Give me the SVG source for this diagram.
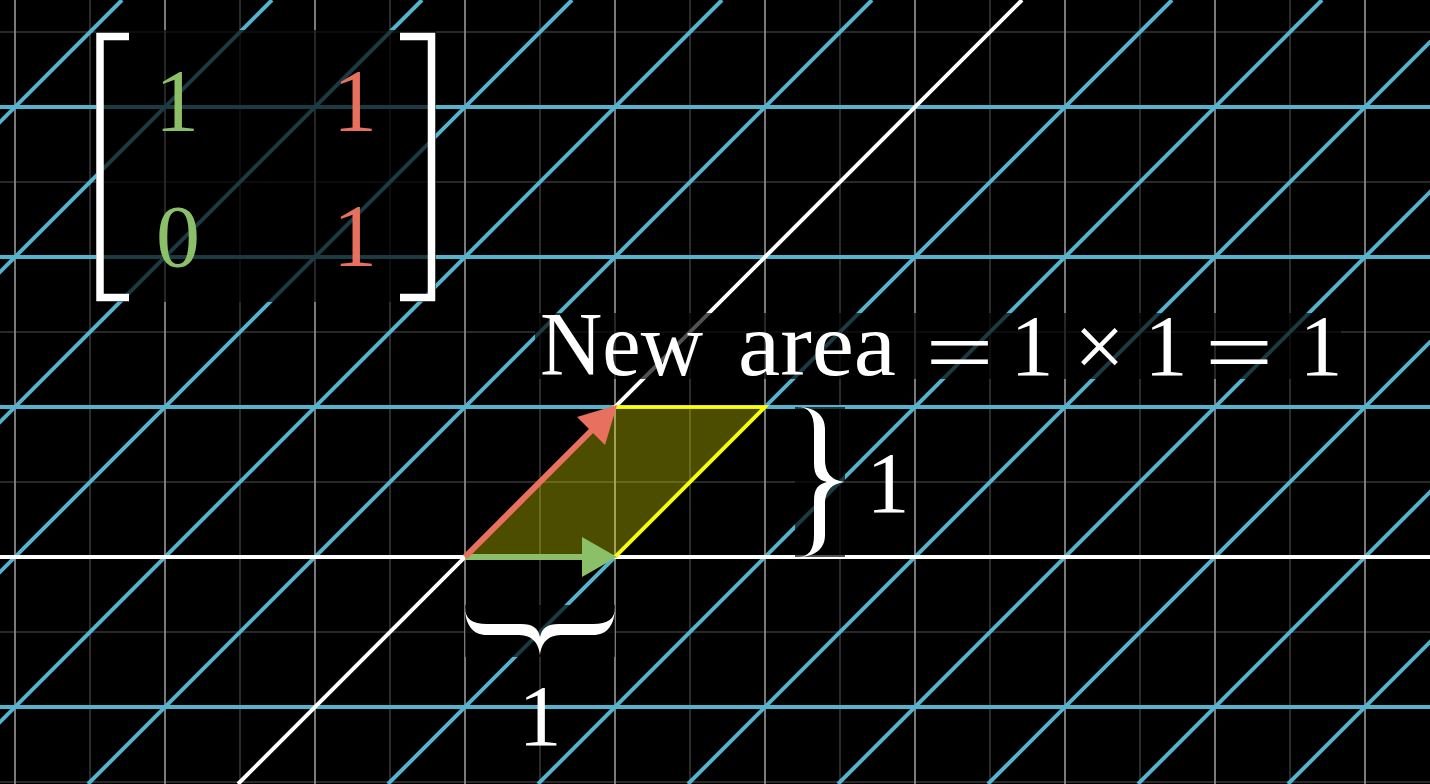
<svg xmlns="http://www.w3.org/2000/svg" width="1430" height="784" viewBox="0 0 1430 784">
<defs>
<style>
.gb{stroke:#7a7a7a;stroke-width:2}
.gf{stroke:#363636;stroke-width:1.6}
.bl{stroke:#55B3CE;stroke-width:4}
.wl{stroke:#ffffff;stroke-width:4}
.tx{font-family:"Liberation Serif","DejaVu Serif",serif;fill:#ffffff}
.mg{fill:#8CC068}
.mr{fill:#E8705E}
.dim{fill:#000000;fill-opacity:0.68}
</style>
<path id="brace" d="M0,0 C0,12 7,17 22,17 L56,17 C68,17 73,21 75,30 C77,21 82,17 94,17 L128,17 C143,17 150,12 150,0 C150,18 142,28 128,28 L98,28 C85,28 77,33 75,48 C73,33 65,28 52,28 L22,28 C8,28 0,18 0,0 Z" fill="#ffffff"/>
</defs>
<rect width="1430" height="784" fill="#000000"/>
<g id="background-grid">
<g class="gf">
<line x1="90" y1="0" x2="90" y2="784"/><line x1="240" y1="0" x2="240" y2="784"/><line x1="390" y1="0" x2="390" y2="784"/><line x1="540" y1="0" x2="540" y2="784"/><line x1="690" y1="0" x2="690" y2="784"/><line x1="840" y1="0" x2="840" y2="784"/><line x1="990" y1="0" x2="990" y2="784"/><line x1="1140" y1="0" x2="1140" y2="784"/><line x1="1290" y1="0" x2="1290" y2="784"/>
<line x1="0" y1="32" x2="1430" y2="32"/><line x1="0" y1="182" x2="1430" y2="182"/><line x1="0" y1="332" x2="1430" y2="332"/><line x1="0" y1="482" x2="1430" y2="482"/><line x1="0" y1="632" x2="1430" y2="632"/><line x1="0" y1="782" x2="1430" y2="782"/>
</g>
<g class="gb">
<line x1="15" y1="0" x2="15" y2="784"/><line x1="165" y1="0" x2="165" y2="784"/><line x1="315" y1="0" x2="315" y2="784"/><line x1="465" y1="0" x2="465" y2="784"/><line x1="615" y1="0" x2="615" y2="784"/><line x1="765" y1="0" x2="765" y2="784"/><line x1="915" y1="0" x2="915" y2="784"/><line x1="1065" y1="0" x2="1065" y2="784"/><line x1="1215" y1="0" x2="1215" y2="784"/><line x1="1365" y1="0" x2="1365" y2="784"/>
</g>
</g>
<g id="sheared-grid">
<g class="bl">
<line x1="0" y1="107" x2="1430" y2="107"/><line x1="0" y1="257" x2="1430" y2="257"/><line x1="0" y1="407" x2="1430" y2="407"/><line x1="0" y1="707" x2="1430" y2="707"/>
<line x1="122" y1="0" x2="-662" y2="784"/>
<line x1="272" y1="0" x2="-512" y2="784"/>
<line x1="422" y1="0" x2="-362" y2="784"/>
<line x1="572" y1="0" x2="-212" y2="784"/>
<line x1="722" y1="0" x2="-62" y2="784"/>
<line x1="872" y1="0" x2="88" y2="784"/>
<line x1="1172" y1="0" x2="388" y2="784"/>
<line x1="1322" y1="0" x2="538" y2="784"/>
<line x1="1472" y1="0" x2="688" y2="784"/>
<line x1="1622" y1="0" x2="838" y2="784"/>
<line x1="1772" y1="0" x2="988" y2="784"/>
<line x1="1922" y1="0" x2="1138" y2="784"/>
<line x1="2072" y1="0" x2="1288" y2="784"/>
</g>
<g class="wl">
<line x1="0" y1="557" x2="1430" y2="557"/>
<line x1="1022" y1="0" x2="238" y2="784"/>
</g>
</g>
<g id="matrix">
<rect class="dim" x="96" y="30" width="340" height="272"/>
<path d="M129,36.5 H100 V297.5 H129" fill="none" stroke="#ffffff" stroke-width="7.5"/>
<path d="M400,36.5 H431.5 V297.5 H400" fill="none" stroke="#ffffff" stroke-width="7.5"/>
<text class="tx mg" x="177" y="130" font-size="88" text-anchor="middle">1</text>
<text class="tx mg" x="178" y="266" font-size="88" text-anchor="middle">0</text>
<text class="tx mr" x="355" y="130" font-size="88" text-anchor="middle">1</text>
<text class="tx mr" x="355" y="265" font-size="88" text-anchor="middle">1</text>
</g>
<g id="area-label">
<rect class="dim" x="535" y="313" width="806" height="66"/>
<text class="tx" x="540" y="375" font-size="90" textLength="163" lengthAdjust="spacingAndGlyphs">New</text>
<text class="tx" x="738" y="375" font-size="90" textLength="158" lengthAdjust="spacingAndGlyphs">area</text>
<text class="tx" font-size="90" text-anchor="middle" transform="translate(959.5,383) scale(1.35,1)">=</text>
<text class="tx" x="1032" y="375" font-size="86" text-anchor="middle">1</text>
<text class="tx" x="1099.5" y="377" font-size="90" text-anchor="middle">×</text>
<text class="tx" x="1166" y="375" font-size="86" text-anchor="middle">1</text>
<text class="tx" font-size="90" text-anchor="middle" transform="translate(1239,383) scale(1.35,1)">=</text>
<text class="tx" x="1321" y="375" font-size="86" text-anchor="middle">1</text>
</g>
<g id="parallelogram">
<path d="M465,557 L615,557 L765,407 L615,407 Z" fill="#FFFF00" fill-opacity="0.3"/>
<path d="M615,557 L765,407 L615,407" fill="none" stroke="#FFFF00" stroke-width="3.5"/>
</g>
<g id="connectors">
<line x1="465" y1="557" x2="584" y2="557" stroke="#8CC068" stroke-width="6"/>
<polygon points="617,557 582,537 582,577" fill="#8CC068"/>
<line x1="465" y1="557" x2="593" y2="429" stroke="#E8705E" stroke-width="6"/>
<polygon points="617,405 577,417 605,445" fill="#E8705E"/>
</g>
<g id="brace-right">
<rect class="dim" x="795" y="407" width="50" height="150"/>
<use href="#brace" transform="matrix(0,1,1,0,797,407)"/>
<text class="tx" x="888" y="512" font-size="86" text-anchor="middle">1</text>
</g>
<g id="brace-bottom">
<rect class="dim" x="465" y="605" width="150" height="52"/>
<use href="#brace" transform="translate(465,607)"/>
<text class="tx" x="540" y="745" font-size="86" text-anchor="middle">1</text>
</g>
</svg>
